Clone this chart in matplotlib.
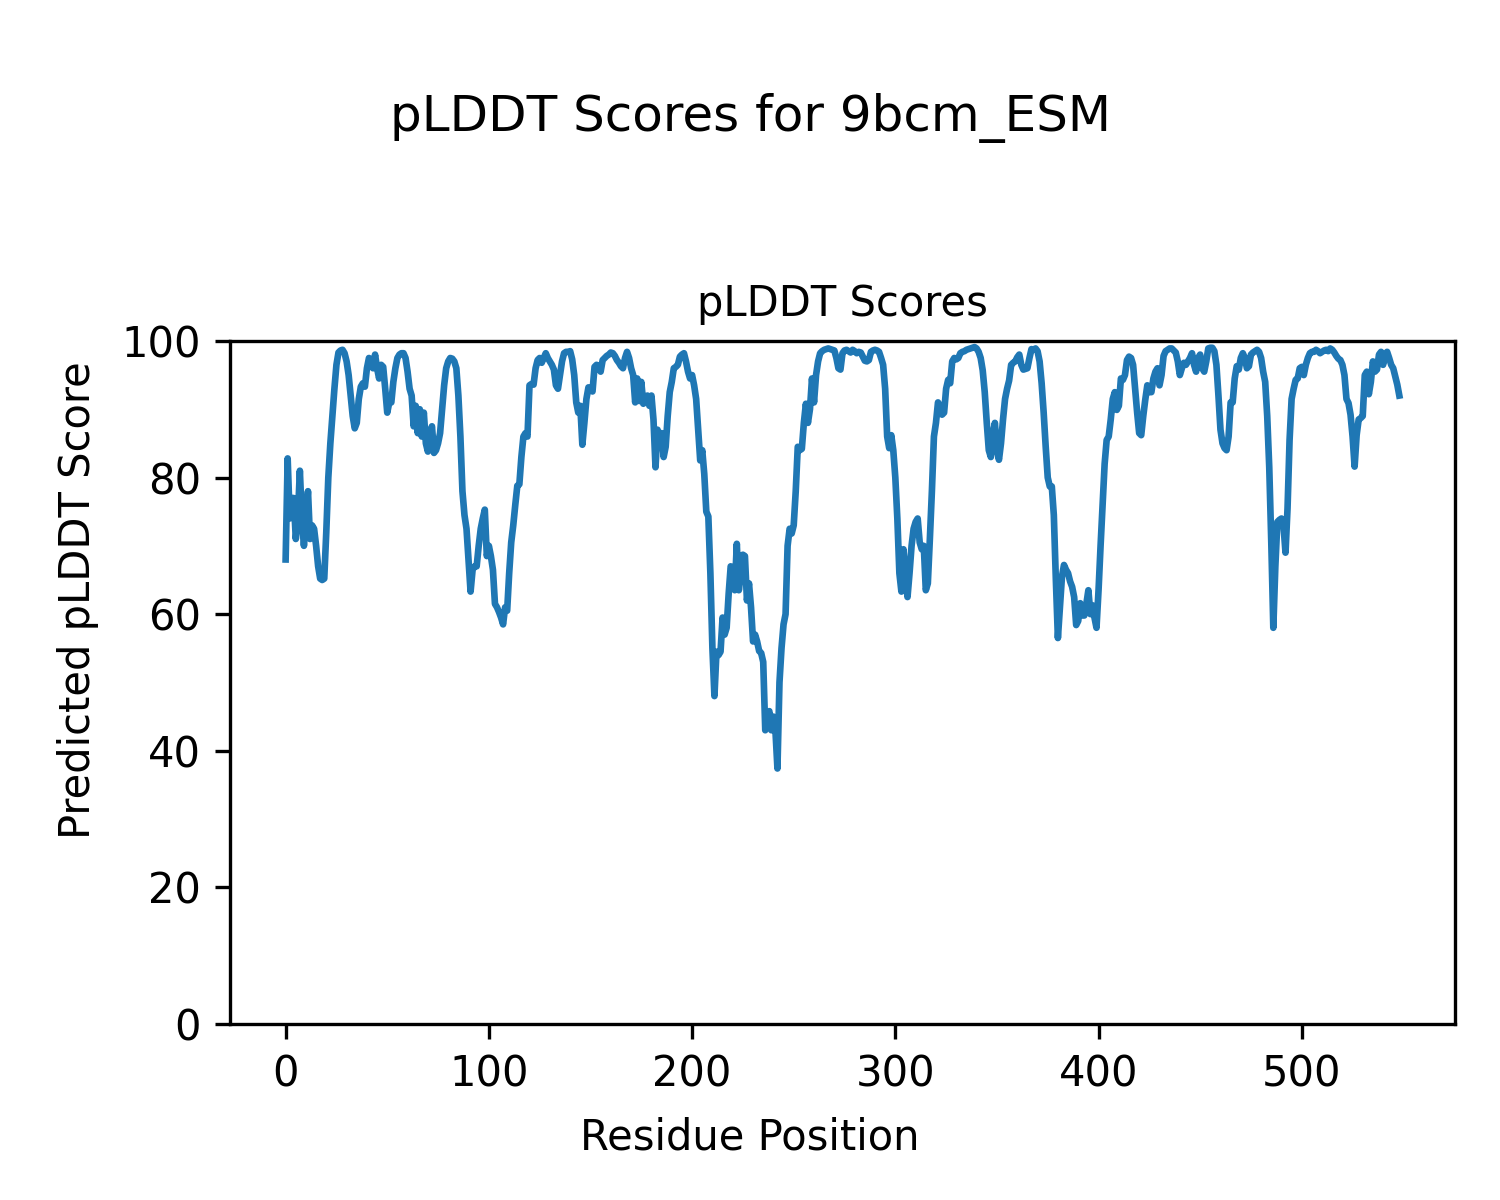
import numpy as np
import matplotlib
matplotlib.use("Agg")
import matplotlib.pyplot as plt

# pLDDT scores per residue, split into segments
scores_000_049 = [68, 82.8, 74, 77, 77, 71, 74, 81, 74, 70,
                  74, 78, 71, 73, 72.5, 70, 67, 65.2, 65, 65.2,
                  72, 80, 85, 89, 93, 96.5, 98.3, 98.6, 98.7, 98.2,
                  97, 95, 92, 89, 87.2, 88, 91.5, 93.3, 93.8, 93.3,
                  96, 97.5, 97, 96, 98, 96, 94.5, 96.5, 96.2, 93]
scores_050_099 = [89.5, 91, 91, 94, 96, 97.5, 98, 98.2, 98.2, 97.5,
                  95.5, 93, 92, 87.5, 90.5, 86.5, 90, 86, 89.5, 85,
                  83.8, 86.5, 87.5, 83.6, 84, 85, 86.5, 90, 93.5, 96,
                  97, 97.5, 97.4, 97, 96, 92, 86, 78, 74.5, 72.5,
                  68, 63.3, 66.5, 67, 67, 70, 72.5, 74, 75.3, 68.5]
scores_100_149 = [70, 68.5, 66.5, 61.5, 61, 60.3, 59.5, 58.5, 61, 60.5,
                  66, 70.5, 73, 76, 78.8, 79, 83, 86, 86.5, 86,
                  93.5, 93.7, 93.6, 96, 97.2, 97.5, 96.8, 97.5, 98.2, 97.5,
                  97, 96.5, 95.8, 93.5, 93, 95, 97, 98.2, 98.4, 98.4,
                  98.5, 97.3, 95, 91, 89.5, 90.5, 84.8, 88, 91.5, 93.2]
scores_150_199 = [93, 92.6, 96.2, 96.5, 96.3, 95.5, 97.2, 97.5, 97.8, 98,
                  98.3, 98.2, 97.8, 97.2, 96.8, 96.3, 96, 97.5, 98.4, 97.5,
                  96, 95, 91, 94.5, 91.2, 94, 90.8, 91.5, 92, 90.5,
                  92, 88.5, 81.5, 87, 84.5, 86.5, 83, 84.5, 89, 92.5,
                  94, 96, 96.2, 96.5, 97.7, 98, 98.2, 97, 95.5, 94.5]
scores_200_249 = [95, 93.5, 91.5, 87, 82.5, 84, 80.5, 75, 74.3, 66,
                  55, 48, 54.5, 54, 54.5, 59.5, 57, 58, 63, 67,
                  66.5, 63.5, 70.3, 63.5, 66, 68.7, 68.5, 62, 64.5, 61,
                  56, 57, 56, 54.6, 54.3, 53, 43, 45, 45.8, 43,
                  45, 43, 37.4, 50, 55, 58.5, 60, 70, 72.5, 71.8]
scores_250_299 = [73, 78, 84.5, 84, 84.2, 88, 90.8, 88, 90, 94.5,
                  91, 95, 97, 98.2, 98.5, 98.7, 98.8, 98.9, 98.8, 98.7,
                  98.6, 97.5, 96, 95.8, 98.2, 98.6, 98.7, 98.5, 98.3, 98.7,
                  98.5, 98.2, 98.4, 98.3, 97.7, 97.1, 97, 97.2, 98.4, 98.6,
                  98.7, 98.6, 98.4, 97.5, 96.5, 93, 86, 84.3, 86.2, 84]
scores_300_349 = [80, 74, 66, 63.3, 69.5, 66, 62.5, 66, 70, 72.5,
                  73.5, 74, 70.5, 69.5, 70, 63.5, 64.5, 71, 78, 86,
                  88, 91, 90.5, 89.2, 89.5, 93, 94.3, 93.8, 97, 97.5,
                  97.3, 97.5, 98.2, 98.4, 98.5, 98.7, 98.8, 98.9, 99, 99.1,
                  98.9, 98.4, 97.5, 95.7, 92.5, 88, 84, 83, 86.5, 88]
scores_350_399 = [84, 82.6, 85, 88.5, 91.5, 93, 94.2, 96.5, 96.8, 97,
                  97.6, 98, 96.5, 95.8, 95.9, 96, 97.5, 98.8, 98.7, 98.9,
                  98.5, 97, 93.8, 89.5, 84.5, 80, 78.7, 78.7, 74.5, 65,
                  56.5, 61, 65.5, 67.2, 66.5, 66, 64.8, 64, 62.5, 58.4,
                  59, 61.6, 59.8, 59.8, 61.5, 63.5, 60, 61.3, 59.5, 58]
scores_400_449 = [63.5, 70, 76, 82, 85.5, 86, 88.5, 91.5, 92.5, 89.9,
                  90.5, 94.5, 94.3, 95, 97.2, 97.7, 97.5, 96.5, 93, 89.5,
                  86.5, 86.2, 89, 91.4, 93.5, 92.5, 92.5, 94.5, 95.5, 96,
                  93.5, 95, 97.8, 98.5, 98.7, 98.9, 98.9, 98.6, 98.3, 97,
                  95, 96, 96.8, 96.5, 97, 97.5, 98.2, 96.5, 95.5, 97.5]
scores_450_499 = [98, 96, 95.5, 97, 98.9, 99, 99, 98.5, 96.5, 92,
                  87, 85, 84.3, 84, 86, 91, 91, 94.5, 96.3, 95.8,
                  97.5, 98.2, 97.5, 96, 96.3, 98, 98.3, 98.5, 98.7, 98.4,
                  97.5, 95.5, 94, 89, 81.5, 70.5, 58, 67, 73.5, 73.8,
                  74, 73, 69, 75.5, 85.5, 91.5, 93, 94.3, 94.5, 96]
scores_500_548 = [96.2, 95, 96.5, 97.5, 98.2, 98.4, 98.4, 98.7, 98.5, 98.2,
                  98.4, 98.6, 98.7, 98.5, 98.9, 98.7, 98.3, 97.8, 97.4, 97.2,
                  96.5, 95, 91.5, 90.9, 89.2, 86, 81.6, 86.2, 88.5, 88.7,
                  89, 95, 95.5, 92.2, 94, 97, 95.5, 95.8, 98, 98.4,
                  96.5, 98, 98.4, 97.5, 96.5, 96, 94.8, 93.6, 92]

scores = np.array(scores_000_049 + scores_050_099 + scores_100_149 + scores_150_199
                  + scores_200_249 + scores_250_299 + scores_300_349 + scores_350_399
                  + scores_400_449 + scores_450_499 + scores_500_548)
residues = np.arange(len(scores))

suptitle_text = "pLDDT Scores for 9bcm_ESM"
title_text = "pLDDT Scores"
xlabel_text = "Residue Position"
ylabel_text = "Predicted pLDDT Score"

fig = plt.figure(figsize=(5, 4), dpi=300)
ax = fig.add_axes([0.1533, 0.1467, 0.8167, 0.5692])
ax.plot(residues, scores, color="#1f77b4", linewidth=1.6)
ax.set_ylim(0, 100)
ax.set_title(title_text, fontsize=10)
fig.text(0.5, 1 - 118 / 1200, suptitle_text, ha="center", va="center", fontsize=12)
fig.text(0.5, 1 - 1138 / 1200, xlabel_text, ha="center", va="center", fontsize=10)
fig.text(78 / 1500, 0.5, ylabel_text, ha="center", va="center", rotation=90, fontsize=10)

fig.savefig("out.png", dpi=300)
